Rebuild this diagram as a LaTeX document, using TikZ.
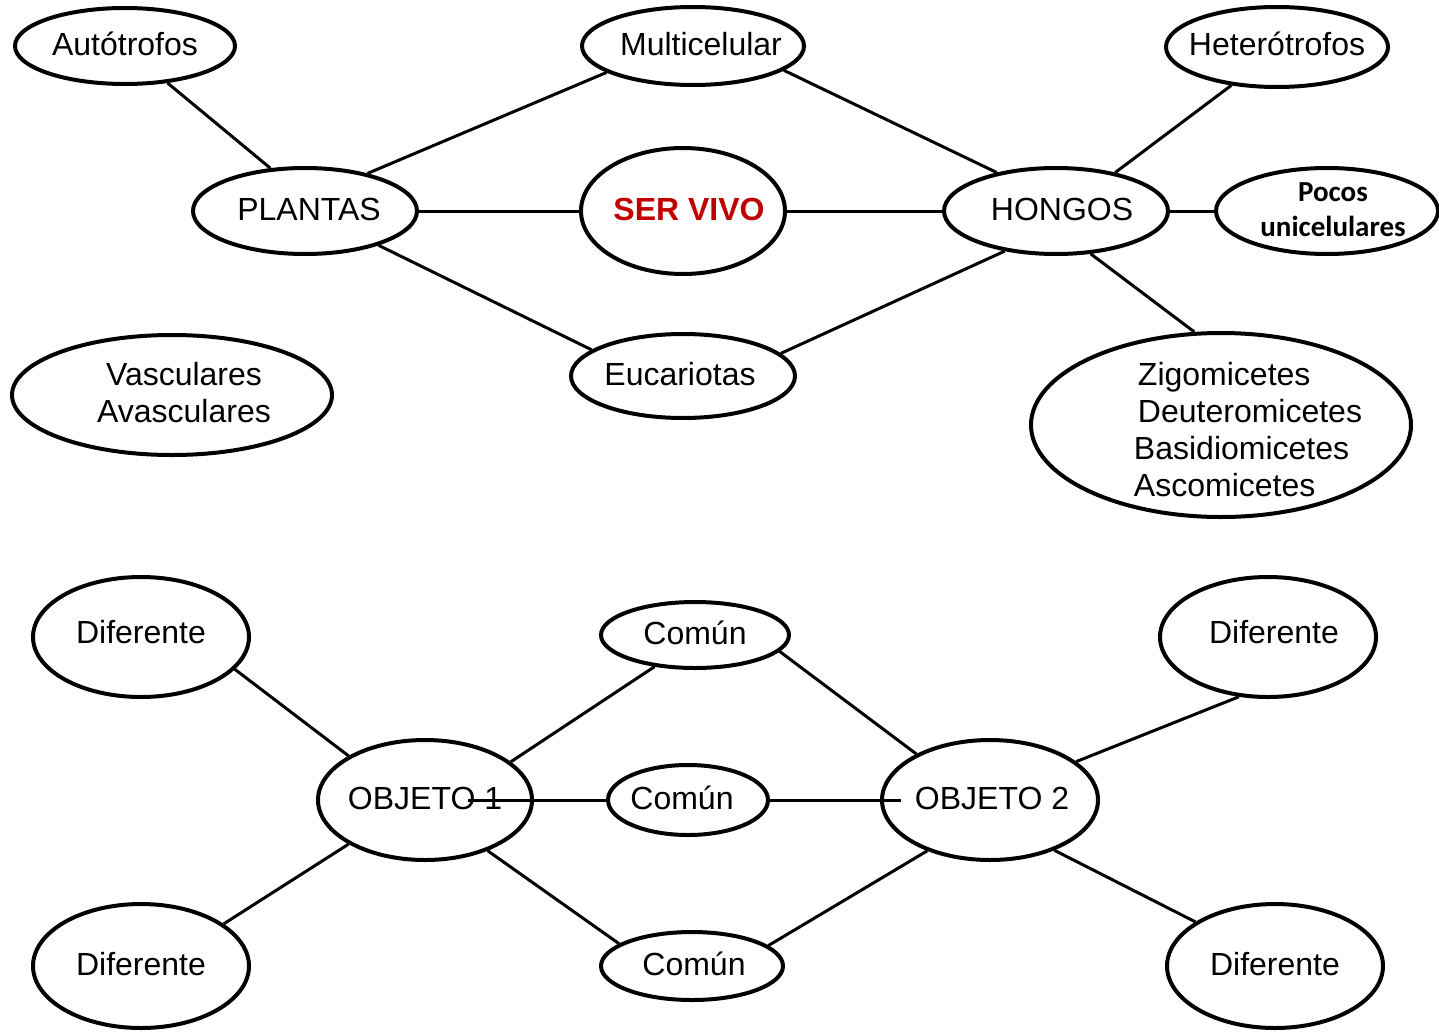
\documentclass[tikz,border=0pt]{standalone}
\usepackage{fontspec}
\setmainfont{Liberation Sans}
\newfontfamily\calibri{Carlito}
\usetikzlibrary{shapes.geometric}
\definecolor{darkred}{RGB}{192,0,0}
\begin{document}
\begin{tikzpicture}[x=0.5pt,y=-0.5pt,
  ell/.style={ellipse, draw, line width=2pt, inner sep=0pt},
  every label/.style={font=\fontsize{16}{18.5}\selectfont, inner sep=0pt, yshift=1pt},
  conn/.style={line width=1.5pt}]
\useasboundingbox (0,0) rectangle (1439,1033);
% top diagram
\node[ell, minimum width=110pt, minimum height=38pt, label={center:Autótrofos}] (aut) at (125,46) {};
\node[ell, minimum width=111pt, minimum height=39pt, label={[xshift=4pt]center:Multicelular}] (mul) at (693,46) {};
\node[ell, minimum width=111pt, minimum height=40pt, label={[yshift=0.5pt]center:Heterótrofos}] (het) at (1277,47) {};
\node[ell, minimum width=112pt, minimum height=43pt, label={[xshift=2pt]center:PLANTAS}] (pla) at (305,211) {};
\node[ell, minimum width=102pt, minimum height=63pt, label={[xshift=3pt, font=\fontsize{16}{19}\selectfont\bfseries, text=darkred]center:SER VIVO}] (sv) at (683,211) {};
\node[ell, minimum width=112pt, minimum height=43pt, label={[xshift=3pt]center:HONGOS}] (hon) at (1056,211) {};
\node[ell, minimum width=111pt, minimum height=43pt, label={[xshift=3pt, yshift=-0.5pt, align=center, font=\calibri\bfseries\fontsize{14.5}{17.5}\selectfont]center:Pocos\\unicelulares}] (poc) at (1327,211) {};
\node[ell, minimum width=160pt, minimum height=60pt, label={[xshift=6pt, align=center]center:Vasculares\\Avasculares}] (vas) at (172,395) {};
\node[ell, minimum width=112pt, minimum height=42pt, label={[xshift=-1.5pt]center:Eucariotas}] (euc) at (683,376) {};
\node[ell, minimum width=190pt, minimum height=92pt, label={[xshift=13.5pt, yshift=-3.5pt, align=left]center:\hspace*{2pt}Zigomicetes\\\hspace*{2pt}Deuteromicetes\\Basidiomicetes\\Ascomicetes}] (zig) at (1221,425) {};
% bottom diagram
\node[ell, minimum width=108pt, minimum height=60pt, label={[yshift=1.5pt]center:Diferente}] (d1) at (141,637) {};
\node[ell, minimum width=94pt, minimum height=33pt, label={center:Común}] (c1) at (695,635) {};
\node[ell, minimum width=108pt, minimum height=60pt, label={[xshift=3pt, yshift=1.5pt]center:Diferente}] (d2) at (1268,637) {};
\node[ell, minimum width=107pt, minimum height=60pt, label={center:OBJETO 1}] (o1) at (425,800) {};
\node[ell, minimum width=80pt, minimum height=35pt, label={[xshift=-3pt]center:Común}] (c2) at (688,800) {};
\node[ell, minimum width=108pt, minimum height=60pt, label={[xshift=1pt]center:OBJETO 2}] (o2) at (990,800) {};
\node[ell, minimum width=108pt, minimum height=62pt, label={center:Diferente}] (d3) at (141,966) {};
\node[ell, minimum width=91pt, minimum height=34pt, label={[xshift=1pt]center:Común}] (c3) at (692,966) {};
\node[ell, minimum width=108pt, minimum height=62pt, label={center:Diferente}] (d4) at (1275,966) {};
\coordinate (o1x) at (468,800);
\coordinate (o2x) at (901,800);
% top connectors
\draw[conn] (aut.-41) -- (pla.129);
\draw[conn] (pla.31) -- (mul.-163);
\draw[conn] (pla) -- (sv);
\draw[conn] (pla.-25.6) -- (euc.164);
\draw[conn] (mul.-15) -- (hon.147);
\draw[conn] (sv) -- (hon);
\draw[conn] (euc.13) -- (hon.-142);
\draw[conn] (het.-140.6) -- (hon.33.7);
\draw[conn] (hon) -- (poc);
\draw[conn] (hon.-51) -- (zig.106.5);
% bottom connectors
\draw[conn] (d1.-19.5) -- (o1.150);
\draw[conn] (o1.24.5) -- (c1.-142.5);
\draw[conn] (o1x) -- (c2);
\draw[conn] (c2) -- (o2x);
\draw[conn] (o1.-39.5) -- (c3.163);
\draw[conn] (c1.-11.4) -- (o2.148.4);
\draw[conn] (o2.24) -- (d2.-116.6);
\draw[conn] (o2.-141.3) -- (c3.15.6);
\draw[conn] (o2.-38.7) -- (d4.151.3);
\draw[conn] (o1.-150.2) -- (d3.27.8);
\end{tikzpicture}
\end{document}
